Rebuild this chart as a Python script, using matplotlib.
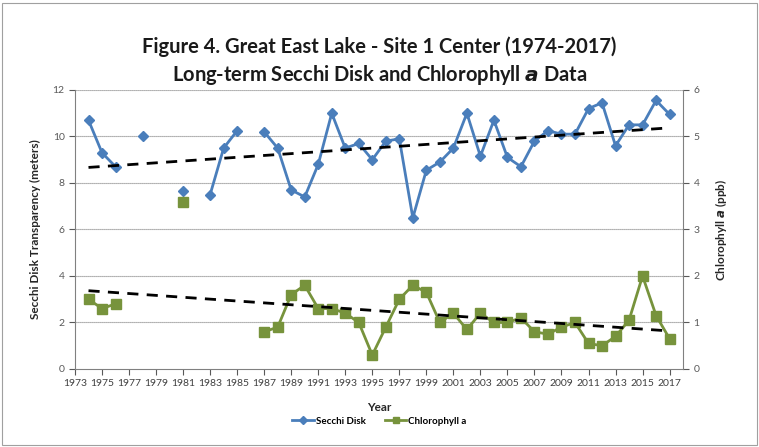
import numpy as np
import matplotlib
matplotlib.use("Agg")
import matplotlib.pyplot as plt
from matplotlib.lines import Line2D
from matplotlib.patches import Rectangle

plt.rcParams['font.family'] = ['Lato', 'DejaVu Sans']

years = list(range(1973, 2018))
# Secchi disk transparency (m), nan = no sample
secchi = [np.nan, 10.7, 9.3, 8.7, np.nan, 10.0, np.nan, np.nan, 7.65, np.nan,
          7.5, 9.5, 10.25, np.nan, 10.2, 9.5, 7.7, 7.4, 8.8, 11.0,
          9.5, 9.7, 9.0, 9.8, 9.9, 6.5, 8.55, 8.9, 9.5, 11.0,
          9.15, 10.7, 9.1, 8.7, 9.8, 10.25, 10.1, 10.1, 11.2, 11.45,
          9.6, 10.5, 10.5, 11.55, 10.95]
# Chlorophyll a (ppb)
chl = [np.nan, 1.5, 1.3, 1.4, np.nan, np.nan, np.nan, np.nan, 3.6, np.nan,
       np.nan, np.nan, np.nan, np.nan, 0.8, 0.9, 1.6, 1.8, 1.3, 1.3,
       1.2, 1.0, 0.3, 0.9, 1.5, 1.8, 1.65, 1.0, 1.2, 0.85,
       1.2, 1.0, 1.0, 1.1, 0.8, 0.75, 0.9, 1.0, 0.55, 0.5,
       0.7, 1.05, 2.0, 1.15, 0.65]
xtick_years = list(range(1973, 2018, 2))

blue = '#4A7EBB'
green = '#77933C'

yrs = np.array(years, dtype=float)
s = np.array(secchi, dtype=float)
c = np.array(chl, dtype=float)

fig = plt.figure(figsize=(7.59, 4.47), dpi=100)
fig.patches.append(Rectangle((0.002, 0.004), 0.996, 0.99, transform=fig.transFigure,
                             fill=False, edgecolor='#A0A0A0', lw=0.8))

ax = fig.add_axes([0.0988, 0.1745, 0.8012, 0.6242])
ax2 = ax.twinx()

# trend lines (linear fit, like the excel trendline)
ms = ~np.isnan(s)
ps = np.polyfit(yrs[ms], s[ms], 1)
tx = np.array([1974, 2017])
ax.plot(tx, np.polyval(ps, tx), color='black', lw=2, ls=(0, (4, 3)), zorder=4)

mc = ~np.isnan(c)
pc = np.polyfit(yrs[mc], c[mc], 1)
ax2.plot(tx, np.polyval(pc, tx), color='black', lw=2, ls=(0, (4, 3)), zorder=4)

ax.plot(yrs, s, color=blue, lw=2, marker='D', ms=5.5, zorder=3)
ax2.plot(yrs, c, color=green, lw=2, marker='s', ms=7, zorder=3)

ax.set_xlim(1973, 2018)
ax.set_ylim(0, 12)
ax2.set_ylim(0, 6)
ax.set_yticks(range(0, 13, 2))
ax2.set_yticks(range(0, 7))
ax.set_xticks(xtick_years)
ax.set_xticklabels([str(y) for y in xtick_years])

for yv in range(2, 13, 2):
    ax.axhline(yv, color='#808080', lw=0.8, ls=(0, (1, 0.8)), zorder=1)

for a in (ax, ax2):
    for sp in a.spines.values():
        sp.set_color('#808080')
    a.spines['top'].set_visible(False)
    a.tick_params(colors='#595959', labelsize=7.5, length=4, width=0.8)
ax.spines['right'].set_visible(False)
ax2.spines['left'].set_visible(False)
ax2.spines['bottom'].set_visible(False)
ax.tick_params(axis='x', labelcolor='#404040', pad=3)

ax.set_ylabel('Secchi Disk Transparency (meters)', fontsize=8.5, fontweight='bold', color='#262626', labelpad=8)
ax2.set_ylabel('Chlorophyll $\\mathbfit{a}$ (ppb)', fontsize=8.5, fontweight='bold', color='#262626', labelpad=10)
ax.set_xlabel('Year', fontsize=8.5, fontweight='bold', color='#262626', labelpad=10)

fig.text(0.5, 0.895, 'Figure 4. Great East Lake - Site 1 Center (1974-2017)',
         ha='center', va='center', fontsize=14.5, fontweight='bold', color='#1A1A1A')
fig.text(0.5, 0.833, 'Long-term Secchi Disk and Chlorophyll $\\mathbfit{a}$ Data',
         ha='center', va='center', fontsize=14.5, fontweight='bold', color='#1A1A1A')

handles = [Line2D([], [], color=blue, lw=2, marker='D', ms=4),
           Line2D([], [], color=green, lw=2, marker='s', ms=5)]
fig.legend(handles, ['Secchi Disk', 'Chlorophyll a'], loc='center', bbox_to_anchor=(0.5, 0.058),
           ncol=2, frameon=False, prop={'size': 7, 'weight': 'bold'},
           handlelength=2.2, columnspacing=2.0, handletextpad=0.2)

fig.savefig('out.png', dpi=100)
